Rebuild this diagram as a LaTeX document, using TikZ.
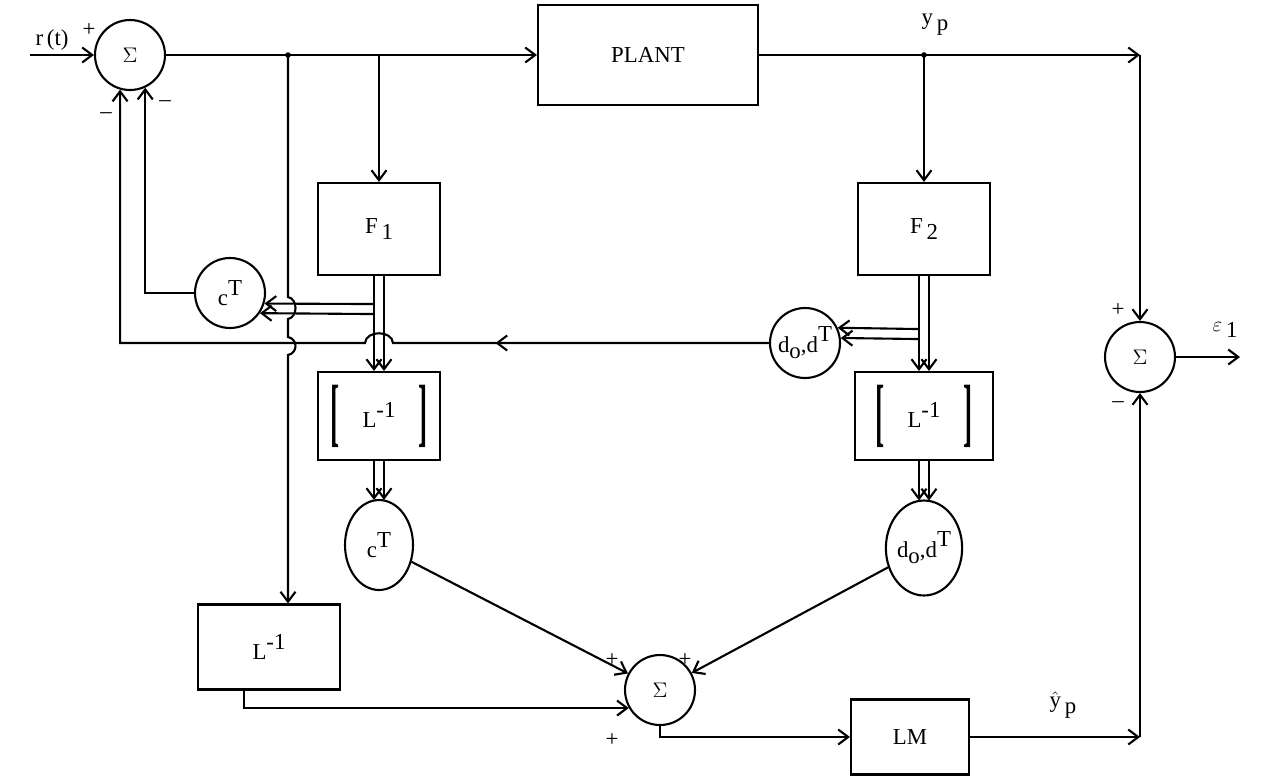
\documentclass[tikz,border=0pt]{standalone}
\usepackage{fontspec}
\usepackage{graphicx}
\setmainfont{Liberation Serif}
\usetikzlibrary{arrows.meta, positioning, calc, shapes.geometric, decorations.markings}

\newcommand{\lowered}[1]{\raisebox{-0.6ex}{#1}}
\newcommand{\raised}[1]{\raisebox{1.0ex}{#1}}
\newcommand{\tallbrack}[1]{\raisebox{-0.9ex}{\scalebox{1.2}[3.3]{\bfseries #1}}}

\begin{document}
\begin{tikzpicture}[x=0.02cm, y=-0.02cm, line width=1.2pt, font=\fontsize{13pt}{15pt}\selectfont,
  block/.style={draw, minimum width=2.44cm, minimum height=1.84cm, align=center},
  sumnode/.style={draw, circle, minimum size=1.4cm, inner sep=0pt},
  sigma/.style={sumnode, font=\large},
  gain/.style={draw, ellipse, minimum width=1.36cm, minimum height=1.8cm, inner sep=0pt},
  arr/.style={-{Straight Barb[length=2mm, width=3mm]}},
  midarr/.style={postaction={decorate}, decoration={markings,
      mark=at position #1 with {\arrow{Straight Barb[length=2mm, width=3mm]}}}},
  sgn/.style={inner sep=1pt}]

  \useasboundingbox (0,0) rectangle (1273,778);

  % blocks and junctions
  \node[sigma] (sum1) at (130,55) {$\Sigma$};
  \node[block, minimum width=4.4cm, minimum height=2cm] (plant) at (648,55) {PLANT};
  \node[block] (F1) at (379,229) {F\,\lowered{1}};
  \node[block, minimum width=2.64cm] (F2) at (924,229) {F\,\lowered{2}};
  \node[sumnode] (cTa) at (230,293) {c\raised{T}};
  \node[sumnode] (doa) at (805,343) {d\lowered{o},d\raised{T}};
  \node[block, minimum height=1.76cm] (Linv1) at (379,416)
    {\tallbrack{[}\quad L\raised{-1}\quad\tallbrack{]}};
  \node[block, minimum width=2.76cm, minimum height=1.76cm] (Linv2) at (924,416)
    {\tallbrack{[}\quad L\raised{-1}\quad\tallbrack{]}};
  \node[gain] (cTb) at (379,545) {c\raised{T}};
  \node[gain, minimum height=1.9cm] (dob) at (924,548) {d\lowered{o},d\raised{T}};
  \node[block, minimum width=2.84cm, minimum height=1.7cm] (Linv0) at (269,647) {L\raised{-1}};
  \node[sigma] (sum2) at (660,690) {$\Sigma$};
  \node[block, minimum width=2.36cm, minimum height=1.5cm] (LM) at (910,737) {LM};
  \node[sigma] (sum3) at (1140,357) {$\Sigma$};

  \coordinate (rin) at (30,55);
  \coordinate (b1) at (288,55);
  \coordinate (b2) at (379,55);
  \coordinate (b3) at (924,55);
  \coordinate (c1) at (1140,55);
  \coordinate (c2) at (1140,737);
  \coordinate (eout) at (1240,357);

  % forward path
  \draw[arr] (rin) -- (sum1);
  \draw[arr] (sum1) -- (plant);
  \fill (b1) circle (1.6pt);
  \fill (b3) circle (1.6pt);
  \draw[arr] (b1) -- (288,297) .. controls (298,299) and (298,317) .. (288,319)
    -- (288,337) .. controls (298,339) and (298,353) .. (288,355) -- (b1 |- Linv0.north);
  \draw[arr] (b2) -- (F1.north);
  \draw[arr] (plant) -- (c1);
  \draw[arr] (c1) -- (sum3.north);
  \draw[arr] (b3) -- (F2.north);

  % double lines
  \foreach \s in {-5,5} {
    \draw[arr] ($(F1.south)+(\s,0)$) -- ($(Linv1.north)+(\s,0)$);
    \draw[arr] ($(F2.south)+(\s,0)$) -- ($(Linv2.north)+(\s,0)$);
    \draw[arr] ($(Linv1.south)+(\s,0)$) -- ($(cTb.north)+(\s,1)$);
    \draw[arr] ($(Linv2.south)+(\s,0)$) -- ($(dob.north)+(\s,1)$);
  }
  \draw[arr] ($(F1.south)+(-5,28)$) -- (cTa.-17);
  \draw[arr] ($(F1.south)+(-5,38)$) -- (cTa.-34);
  \draw[arr] ($(F2.south)+(-5,53)$) -- (doa.25);
  \draw[arr] ($(F2.south)+(-5,63)$) -- (doa.8);

  % feedback to the first junction
  \draw[arr] (cTa.west) -| (sum1.-65);
  \draw[arr, midarr=0.3] (doa.west) -- (393,343) .. controls (392,330) and (366,330) .. (365,343)
    -| (sum1.-106);

  % model side
  \draw[arr] (cTb) -- (sum2);
  \draw[arr] (dob) -- (sum2);
  \draw[arr] (Linv0.-120) |- (sum2.210);
  \draw[arr] (sum2.south) |- (LM.west);
  \draw[arr] (LM) -- (c2);
  \draw[arr] (c2) -- (sum3.south);
  \draw[arr] (sum3) -- (eout);

  % labels
  \node at (52,40) {r\,(t)};
  \node[sgn] at (89,30) {+};
  \node[sgn] at (106,116) {--};
  \node[sgn] at (165,104) {--};
  \node at (935,25) {y\,\lowered{p}};
  \node at (1063,705) {$\hat{\mbox{y}}$\,\lowered{p}};
  \node[sgn] at (1118,310) {+};
  \node[sgn] at (1118,405) {--};
  \node at (1225,330) {$\varepsilon$\,\lowered{1}};
  \node[sgn] at (612,660) {+};
  \node[sgn] at (685,660) {+};
  \node[sgn] at (612,740) {+};
\end{tikzpicture}
\end{document}
